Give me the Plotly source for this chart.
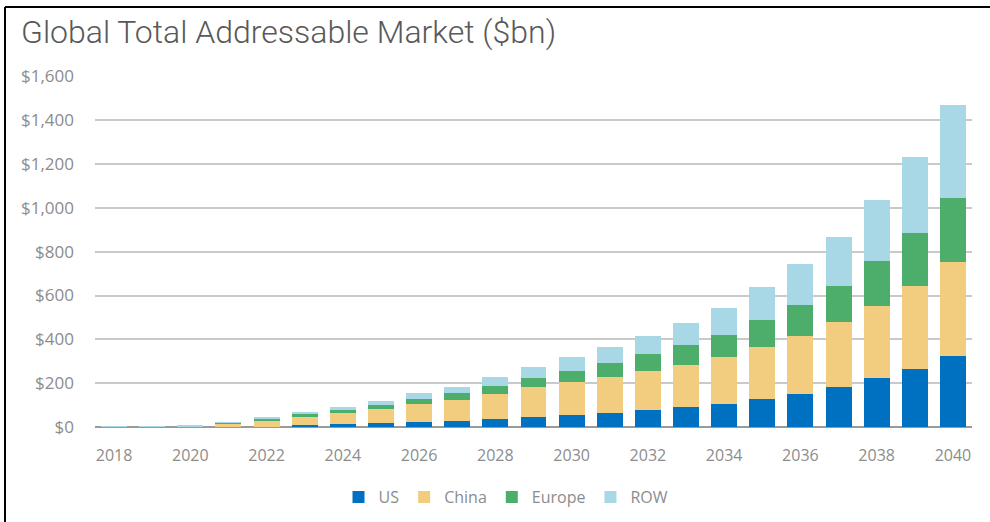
import plotly.graph_objects as go

years = [str(y) for y in range(2018, 2041)]

# Market size by region, $bn
us = [0.3, 0.5, 1, 1, 2, 10, 14, 17, 21, 27, 35, 44, 55, 62, 77, 90, 105, 128, 150, 184, 222, 267, 324]
china = [0.5, 1, 2, 16, 28, 34, 48, 64, 82, 96, 115, 137, 149, 164, 180, 193, 215, 238, 266, 293, 329, 377, 429]
europe = [0.2, 0.5, 1, 3, 7, 15, 15, 19, 25, 30, 38, 44, 53, 64, 74, 91, 99, 122, 140, 166, 207, 243, 294]
row = [0.2, 0.5, 1, 2, 7, 11, 16, 20, 25, 31, 41, 50, 63, 73, 85, 101, 122, 149, 187, 224, 277, 345, 421]

series = [
    ("US", us, "#0070C0"),
    ("China", china, "#F3CD7F"),
    ("Europe", europe, "#4DAE6B"),
    ("ROW", row, "#A8D8E6"),
]

y_ticks = list(range(0, 1601, 200))
y_labels = ["$0", "$200", "$400", "$600", "$800", "$1,000", "$1,200", "$1,400", "$1,600"]

fig = go.Figure()
for name, vals, color in series:
    fig.add_trace(go.Bar(x=years, y=vals, name=name, marker_color=color,
                         marker_line_width=0))

W, H = 990, 522
ml, mr, mt, mb = 95, 18, 76, 95
pw, ph = W - ml - mr, H - mt - mb


def px_x(x):
    return (x - ml) / pw


def px_y(y):
    return (H - mb - y) / ph


label_font = dict(family="Open Sans, Liberation Sans, sans-serif", size=16, color="#8C8C8C")

fig.update_layout(
    width=W, height=H,
    margin=dict(l=ml, r=mr, t=mt, b=mb, autoexpand=False),
    paper_bgcolor="white", plot_bgcolor="white",
    barmode="stack", bargap=0.32,
    title=dict(text="Global Total Addressable Market ($bn)",
               font=dict(family="Roboto", size=32, color="#595959", weight=300),
               xref="container", yref="container",
               x=21 / W, xanchor="left", y=1 - 32 / H, yanchor="middle"),
    xaxis=dict(type="category", tickmode="array",
               tickvals=years[::2], ticktext=years[::2],
               showgrid=False, showline=False, ticks="",
               tickfont=label_font, ticklabelstandoff=17),
    yaxis=dict(range=[0, 1602], tickmode="array", tickvals=y_ticks, ticktext=y_labels,
               showgrid=True, gridcolor="#C9C9C9", gridwidth=1.5,
               zeroline=True, zerolinecolor="#9A9A9A", zerolinewidth=1.5,
               showline=False, ticks="", tickfont=dict(label_font, size=17),
               ticklabelstandoff=20),
    legend=dict(orientation="h", x=px_x(506), xanchor="center", y=px_y(497), yanchor="middle",
                font=label_font, traceorder="normal",
                itemwidth=30),
    showlegend=True,
)

# Frame lines around the chart
fig.add_shape(type="line", xref="paper", yref="paper",
              x0=px_x(5), x1=px_x(W + 5), y0=px_y(7), y1=px_y(7),
              line=dict(color="black", width=2))
fig.add_shape(type="line", xref="paper", yref="paper",
              x0=px_x(5), x1=px_x(5), y0=px_y(7), y1=px_y(H + 5),
              line=dict(color="black", width=2))

fig.write_html("out.html")
